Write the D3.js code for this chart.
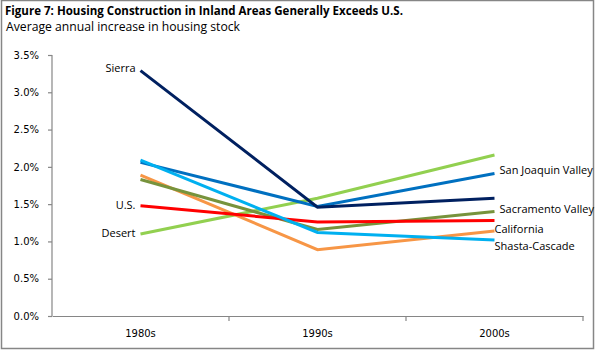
<!DOCTYPE html>
<html>
<head>
<meta charset="utf-8">
<script src="https://cdn.jsdelivr.net/npm/d3@7"></script>
<style>
  body { margin: 0; background: #fff; }
  text { fill: #000; }
</style>
</head>
<body>
<div id="container"></div>
<script>
/* CONSTANTS AND GLOBALS */
const width = 595,
  height = 350,
  margin = { top: 55, bottom: 34, left: 52, right: 12 }

/* DATA */
const decades = ["1980s", "1990s", "2000s"]
const yTicks = [0, 0.005, 0.01, 0.015, 0.02, 0.025, 0.03, 0.035]

const sierra = [0.0329, 0.0146, 0.0158]
const sanJoaquin = [0.0206, 0.0147, 0.0191]
const shasta = [0.0209, 0.0112, 0.0102]
const california = [0.0189, 0.0089, 0.0114]
const sacramento = [0.0183, 0.0116, 0.0140]
const us = [0.0148, 0.0126, 0.0128]
const desert = [0.0110, 0.0158, 0.0216]

const seriesNames = ["Desert", "California", "Sacramento Valley", "U.S.", "San Joaquin Valley", "Shasta-Cascade", "Sierra"]
const seriesValues = [desert, california, sacramento, us, sanJoaquin, shasta, sierra]
const seriesColors = ["#92D050", "#F79646", "#77933C", "#FF0000", "#0070C0", "#00B0F0", "#002060"]

// label side: left labels at 1980s, right labels at 2000s
const leftLabels = ["Sierra", "U.S.", "Desert"]

const series = seriesNames.map((name, i) => ({
  name: name,
  color: seriesColors[i],
  values: seriesValues[i].map((v, j) => ({ decade: decades[j], value: v }))
}))

/* SCALES */
const xScale = d3.scaleBand()
  .domain(decades)
  .range([margin.left, width - margin.right])

const yScale = d3.scaleLinear()
  .domain([0, 0.035])
  .range([height - margin.bottom, margin.top])

const svg = d3.select("#container")
  .append("svg")
  .attr("width", width)
  .attr("height", height)

// outer frame
svg.append("rect")
  .attr("x", 1.5).attr("y", 0.5)
  .attr("width", width - 3).attr("height", height - 2)
  .attr("fill", "none")
  .attr("stroke", "#868686")
  .attr("stroke-width", 1.5)

// TITLE
svg.append("text")
  .attr("x", 5).attr("y", 15)
  .attr("font-family", "Open Sans")
  .attr("font-weight", "bold")
  .attr("font-size", 12.5)
  .attr("textLength", 398)
  .attr("lengthAdjust", "spacingAndGlyphs")
  .text("Figure 7: Housing Construction in Inland Areas Generally Exceeds U.S.")

svg.append("text")
  .attr("x", 6).attr("y", 31)
  .attr("font-family", "Open Sans")
  .attr("font-size", 12.5)
  .attr("textLength", 234)
  .attr("lengthAdjust", "spacingAndGlyphs")
  .text("Average annual increase in housing stock")

// AXES
const yAxis = d3.axisLeft(yScale)
  .tickValues(yTicks)
  .tickFormat(d3.format(".1%"))
  .tickSize(4)
  .tickPadding(9)

const yAxisGroup = svg.append("g")
  .attr("class", "yAxis")
  .attr("transform", `translate(${margin.left}, 0)`)
  .call(yAxis)

const xAxis = d3.axisBottom(xScale)
  .tickSize(0)
  .tickPadding(14)

const xAxisGroup = svg.append("g")
  .attr("class", "xAxis")
  .attr("transform", `translate(0, ${height - margin.bottom})`)
  .call(xAxis)

// category boundary ticks (between categories)
const bounds = decades.map(d => xScale(d) + xScale.bandwidth())
xAxisGroup.selectAll(".bound")
  .data(bounds)
  .join("line")
  .attr("class", "bound")
  .attr("x1", d => d).attr("x2", d => d)
  .attr("y1", 0).attr("y2", 5)

svg.selectAll(".yAxis path, .xAxis path, .yAxis line, .xAxis line")
  .attr("stroke", "#868686")
  .attr("stroke-width", 1.2)
svg.selectAll(".yAxis path, .xAxis path").attr("fill", "none")
yAxisGroup.select(".domain").attr("d", `M0,${yScale(0)}V${yScale(0.035)}`)
svg.selectAll(".yAxis text, .xAxis text")
  .attr("font-family", "DejaVu Sans")
  .attr("font-size", 10)
  .attr("fill", "#000")

// LINES
const lineGen = d3.line()
  .x(d => xScale(d.decade) + xScale.bandwidth() / 2)
  .y(d => yScale(d.value))

svg.selectAll(".line")
  .data(series)
  .join("path")
  .attr("class", "line")
  .attr("fill", "none")
  .attr("stroke", d => d.color)
  .attr("stroke-width", 3)
  .attr("d", d => lineGen(d.values))

// LABELS
const labelNudge = {
  "Sierra": -2, "U.S.": 0, "Desert": 0,
  "San Joaquin Valley": -3, "Sacramento Valley": -2, "California": -1, "Shasta-Cascade": 7
}
svg.selectAll(".label")
  .data(series)
  .join("text")
  .attr("class", "label")
  .attr("font-family", "Open Sans")
  .attr("font-size", 11)
  .attr("dominant-baseline", "middle")
  .attr("text-anchor", d => leftLabels.includes(d.name) ? "end" : "start")
  .attr("x", d => leftLabels.includes(d.name)
    ? xScale(decades[0]) + xScale.bandwidth() / 2 - 5
    : xScale(decades[2]) + xScale.bandwidth() / 2 + (d.name.includes("Valley") ? 5 : 0))
  .attr("y", d => {
    const v = leftLabels.includes(d.name) ? d.values[0].value : d.values[2].value
    return yScale(v) + labelNudge[d.name]
  })
  .text(d => d.name)
</script>
</body>
</html>
